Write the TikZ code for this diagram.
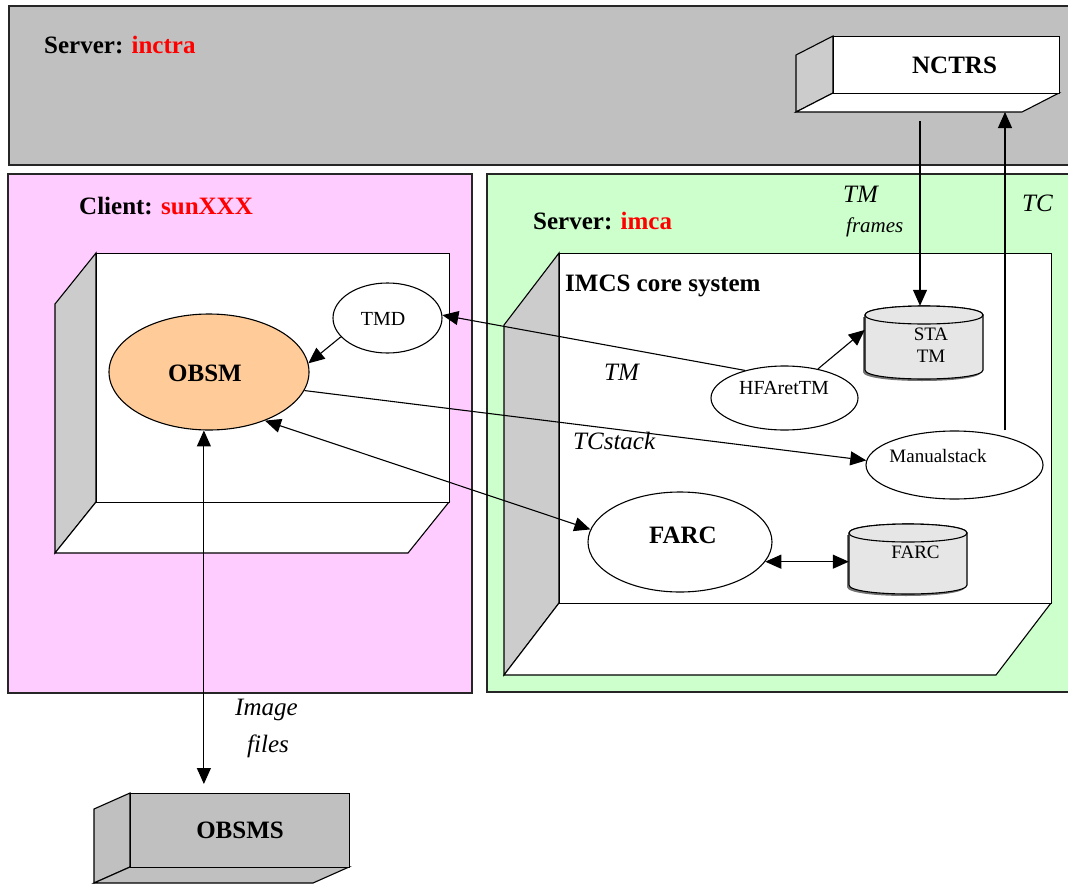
\documentclass[tikz,border=0pt]{standalone}
\usepackage{fontspec}
\setmainfont{Liberation Serif}
\usetikzlibrary{arrows.meta,calc,shapes.geometric}
\definecolor{srvgray}{HTML}{C0C0C0}
\definecolor{sidegray}{HTML}{CCCCCC}
\definecolor{clientpink}{HTML}{FFCCFF}
\definecolor{servergreen}{HTML}{CCFFCC}
\definecolor{obsmfill}{HTML}{FFCC99}
\definecolor{canfill}{HTML}{E6E6E6}
\definecolor{hostred}{HTML}{FF0000}

\begin{document}
\begin{tikzpicture}[x=1pt,y=-1pt,line join=miter,
  zone/.style={draw=black!85,line width=1.5pt},
  face/.style={draw=black,line width=1.1pt},
  proc/.style={ellipse,draw,line width=1.1pt,fill=white,inner sep=0pt},
  canline/.style={draw=black,line width=1.1pt,fill=canfill},
  arr/.style={-{Triangle[length=16pt,width=14pt]},line width=1.1pt},
  dblarr/.style={{Triangle[length=16pt,width=14pt]}-{Triangle[length=16pt,width=14pt]},line width=1.1pt},
  title/.style={font=\fontsize{25}{30}\selectfont\bfseries,anchor=base west,inner sep=0pt},
  boldlbl/.style={font=\fontsize{25}{30}\selectfont\bfseries,anchor=base,inner sep=0pt},
  flow/.style={font=\fontsize{25}{30}\selectfont\itshape,anchor=base west,inner sep=0pt},
  smalllbl/.style={font=\fontsize{20}{24}\selectfont,anchor=base,inner sep=0pt},
]
\useasboundingbox (0,0) rectangle (1068,886);

% hosts
\begin{scope}
  \clip (0,0) rectangle (1068,886);
  \draw[zone,fill=srvgray] (9,6) rectangle (1085,165);
  \draw[zone,fill=clientpink] (8,174) rectangle (472,693);
  \draw[zone,fill=servergreen] (487,174) rectangle (1085,692);
\end{scope}

\node[title] (inctra) at (44,53) {Server: \textcolor{hostred}{inctra}};
\node[title] (sunx) at (79,214) {Client: \textcolor{hostred}{sunXXX}};
\node[title] (imca) at (533,229) {Server: \textcolor{hostred}{imca}};

% NCTRS block
\draw[face,fill=sidegray] (833,36) -- (796,55) -- (796,112) -- (833,93) -- cycle;
\draw[face,fill=white] (833,93) -- (796,112) -- (1022,112) -- (1059,93) -- cycle;
\node[draw,line width=1.1pt,fill=white,minimum width=226,minimum height=57,inner sep=0pt,
      anchor=north west,font=\fontsize{25}{30}\selectfont\bfseries] (nctrs) at (833,36)
      {\hspace*{16pt}NCTRS};
\coordinate (nctrsbase) at (1022,112);

% client workstation box
\draw[face,fill=sidegray] (96,253) -- (55,304) -- (55,553) -- (96,502) -- cycle;
\draw[face,fill=white] (96,502) -- (55,553) -- (408,553) -- (449,502) -- cycle;
\node[draw,line width=1.1pt,fill=white,minimum width=353,minimum height=249,inner sep=0pt,
      anchor=north west] (clientbox) at (96,253) {};

% IMCS core system box
\draw[face,fill=sidegray] (559,253) -- (504,325) -- (504,675) -- (559,603) -- cycle;
\draw[face,fill=white] (559,603) -- (504,675) -- (996,675) -- (1051,603) -- cycle;
\node[draw,line width=1.1pt,fill=white,minimum width=492,minimum height=350,inner sep=0pt,
      anchor=north west] (imcsbox) at (559,253) {};
\node[title] (imcs) at (565,291) {IMCS core system};

% OBSMS block
\draw[face,fill=srvgray] (130,793) -- (94,809) -- (94,883) -- (130,867) -- cycle;
\draw[face,fill=srvgray] (130,867) -- (94,883) -- (313,883) -- (349,867) -- cycle;
\node[draw,line width=1.1pt,fill=srvgray,minimum width=219,minimum height=74,inner sep=0pt,
      anchor=north west,font=\fontsize{25}{30}\selectfont\bfseries] (obsms) at (130,793) {OBSMS};

% processes
\node[proc,fill=obsmfill,minimum width=200,minimum height=116] (obsm) at (209,372) {};
\node[boldlbl] (obsmT) at (205,381) {OBSM};
\node[proc,minimum width=109,minimum height=70] (tmd) at (387.5,318) {};
\node[smalllbl] (tmdT) at (383,325) {TMD};
\node[proc,minimum width=147,minimum height=64] (hfa) at (784.5,398) {};
\node[smalllbl] (hfaT) at (784,394) {HFAretTM};
\node[proc,minimum width=177,minimum height=68] (manual) at (954.5,465) {};
\node[smalllbl,font=\fontsize{19}{23}\selectfont] (manualT) at (938,462) {Manualstack};
\node[proc,minimum width=184,minimum height=100] (farc) at (680,542) {};
\node[boldlbl] (farcT) at (683,543) {FARC};

% data stores
\node[minimum width=118,minimum height=73,inner sep=0pt] (sta) at (924,342.5) {};
\fill[black!55] (863,317) -- (863,372) .. controls (863,384) and (981,384) .. (981,372) -- (981,317) -- cycle;
\draw[canline] (865,315) -- (865,370) .. controls (865,382) and (983,382) .. (983,370)
  -- (983,315) .. controls (983,303) and (865,303) .. (865,315) -- cycle;
\draw[canline] (865,315) .. controls (865,303) and (983,303) .. (983,315)
  .. controls (983,327) and (865,327) .. (865,315) -- cycle;
\node[smalllbl,font=\fontsize{19}{23}\selectfont] (staA) at (931,340) {STA};
\node[smalllbl,font=\fontsize{19}{23}\selectfont] (staB) at (931,362) {TM};

\node[minimum width=118,minimum height=70,inner sep=0pt] (farccyl) at (908,559) {};
\fill[black!55] (847,535) -- (847,587) .. controls (847,599) and (965,599) .. (965,587) -- (965,535) -- cycle;
\draw[canline] (849,533) -- (849,585) .. controls (849,597) and (967,597) .. (967,585)
  -- (967,533) .. controls (967,521) and (849,521) .. (849,533) -- cycle;
\draw[canline] (849,533) .. controls (849,521) and (967,521) .. (967,533)
  .. controls (967,545) and (849,545) .. (849,533) -- cycle;
\node[smalllbl,font=\fontsize{19}{23}\selectfont] (farccylT) at (915.5,558) {FARC};

% flow labels
\node[flow] (lblTMf) at (843,202) {TM};
\node[flow,font=\fontsize{21}{25}\selectfont\itshape] (lblframes) at (846,232) {frames};
\node[flow] (lblTC) at (1022,211) {TC};
\node[flow] (lblTM) at (604,380) {TM};
\node[flow] (lblTCs) at (573,449) {TCstack};
\node[flow] (lblImg) at (235,715) {Image};
\node[flow] (lblFiles) at (247,752) {files};

% connectors
\coordinate (tmx) at (920,0);
\coordinate (tcx) at (1005,0);
\draw[arr,shorten <=9pt] (tmx |- nctrsbase) -- (tmx |- sta.north);
\draw[arr] (tcx |- manual.north) -- (tcx |- nctrsbase);
\draw[arr] (hfa.41) -- (sta.168);
\draw[arr] (hfa.145) -- (tmd.3);
\draw[arr] (tmd.202) -- (obsm.5);
\draw[arr] (obsm.-11) -- (manual.177);
\draw[dblarr] (obsm.-41) -- (farc.172);
\draw[dblarr] (farc.-13) -- (farc.-13 -| farccyl.west);
\draw[dblarr,shorten >=9pt] (obsm.-95) -- (obsm.-95 |- obsms.north);
\end{tikzpicture}
\end{document}
